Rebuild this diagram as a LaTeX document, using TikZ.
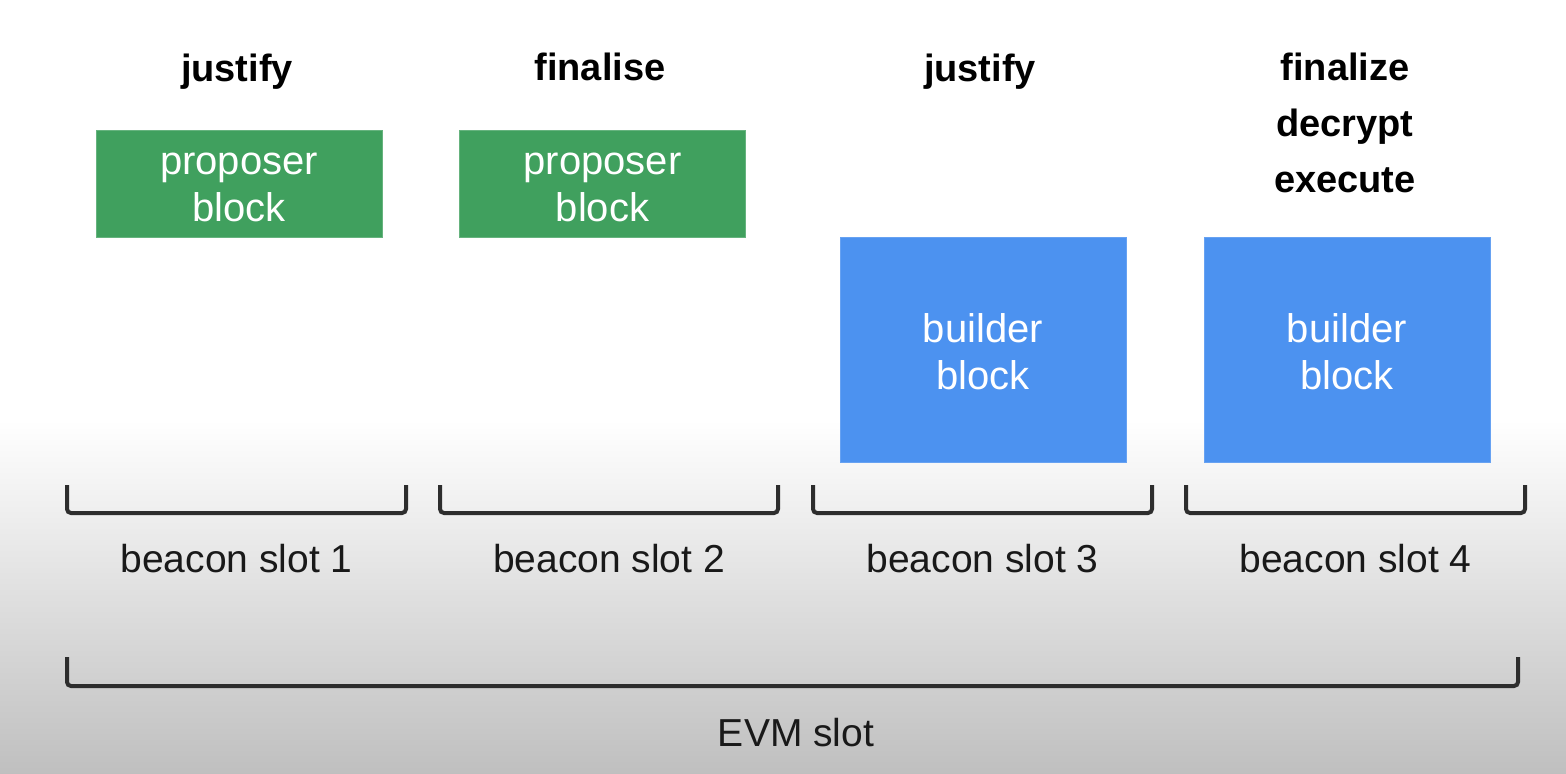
\documentclass[tikz,border=0pt]{standalone}
\usepackage{fontspec}
\setmainfont{Liberation Sans}
\usetikzlibrary{positioning}

\definecolor{propgreen}{RGB}{64,160,94}
\definecolor{buildblue}{RGB}{76,146,240}
\definecolor{bracketgray}{RGB}{45,45,45}

\tikzset{
    phase/.style={font=\bfseries\fontsize{19}{28}\selectfont, align=center, anchor=base},
    boxtext/.style={text=white, align=center, yshift=-2pt, font=\fontsize{20}{23.5}\selectfont},
    proposer/.style={fill=propgreen, draw=propgreen!80!white, minimum width=143pt,
                     minimum height=53.5pt, inner sep=0pt},
    builder/.style={proposer, fill=buildblue, draw=buildblue!85!white, minimum height=112.5pt},
    slotlabel/.style={font=\fontsize{19.5}{23}\selectfont, anchor=base, text=black!90},
    bracket/.style={draw=bracketgray, line width=2pt, rounded corners=2pt}
}

\begin{document}
\begin{tikzpicture}[x=0.5pt,y=-0.5pt]
\useasboundingbox (0,0) rectangle (1566,774);
% background
\fill[white] (0,0) rectangle (1566,420);
\shade[top color=white, bottom color=gray!50] (0,420) rectangle (1566,774);

% what happens in each slot
\node[phase] (ph1) at (237,82) {justify};
\node[phase] (ph2) at (600,81) {finalise};
\node[phase] (ph3) at (980,82) {justify};
\node[phase] (ph4) at (1345,193) {finalize\\decrypt\\execute};

% blocks
\node[proposer, label={[boxtext]center:proposer\\block}] (pb1) at (239,183.5) {};
\node[proposer, label={[boxtext]center:proposer\\block}] (pb2) at (602.5,183.5) {};
\node[builder, label={[boxtext, yshift=1pt]center:builder\\block}] (bb3) at (983,349.5) {};
\node[builder, label={[boxtext, yshift=1pt]center:builder\\block}] (bb4) at (1347,349.5) {};

% beacon slots
\foreach \n/\xl/\xr in {1/67/406, 2/440/778, 3/813/1152, 4/1186/1525} {
    \draw[bracket] (\xl,485) -- (\xl,513) -- (\xr,513) -- (\xr,485);
    \node[slotlabel] (slot\n) at ({(\xl+\xr)/2},572) {beacon slot \n};
}

% evm slot
\draw[bracket] (67,657) -- (67,686) -- (1518,686) -- (1518,657);
\node[slotlabel] (evm) at (796,746) {EVM slot};
\end{tikzpicture}
\end{document}
